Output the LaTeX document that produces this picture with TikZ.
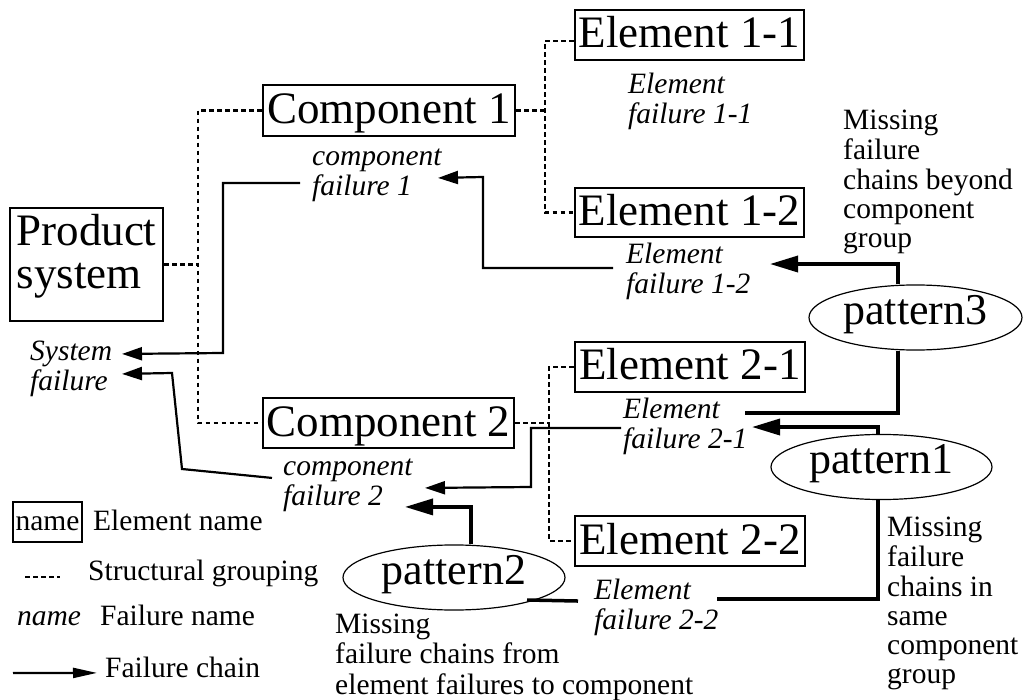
\documentclass[tikz,border=0pt]{standalone}
\usepackage{fontspec}
\setmainfont{Liberation Serif}
\usetikzlibrary{arrows.meta,shapes.geometric}
\newcommand\bigf{\fontsize{45}{43}\selectfont}
\newcommand\patf{\fontsize{44}{44}\selectfont}
\newcommand\smallf{\fontsize{29.5}{29}\selectfont}
\tikzset{
  boxbase/.style={draw, line width=2.2pt, inner sep=0pt, font=\bigf},
  box/.style={boxbase, text height=31pt, text depth=5pt},
  grp/.style={line width=2.3pt, dash pattern=on 4.5pt off 3.5pt},
  chain/.style={line width=2.2pt, -{Triangle[length=20pt,width=13pt]}},
  legarrow/.style={line width=2.2pt, -{Triangle[length=24pt,width=10pt]}},
  pat/.style={line width=3.5pt},
  patarrow/.style={pat, -{Triangle[length=28pt,width=16pt]}},
  patt/.style={draw, ellipse, line width=1.2pt, inner sep=0pt, font=\patf, text height=30pt, text depth=16pt},
  flab/.style={anchor=north west, inner sep=0pt, align=left, font=\smallf\itshape},
  note/.style={anchor=north west, inner sep=0pt, align=left, font=\smallf},
  leg/.style={anchor=base west, inner sep=0pt, font=\smallf},
}
\begin{document}
\begin{tikzpicture}[x=1pt,y=-1pt]
\useasboundingbox (0,0) rectangle (1023,700);

% structure boxes
\node[boxbase, minimum width=153pt, minimum height=113pt, align=left] (ps) at (86.5,264.5) {Product\\system\rule[-26.7pt]{0pt}{1pt}};
\node[box, minimum width=252pt, minimum height=51pt] (c1) at (389,110.5) {Component 1};
\node[box, minimum width=251pt, minimum height=50pt] (c2) at (388.5,423) {Component 2};
\node[box, minimum width=229pt, minimum height=50pt] (e11) at (689.5,35) {Element 1-1};
\node[box, minimum width=229pt, minimum height=49pt] (e12) at (689.5,212.5) {Element 1-2};
\node[box, minimum width=230pt, minimum height=50pt] (e21) at (690,367) {Element 2-1};
\node[box, minimum width=230pt, minimum height=50pt] (e22) at (690,541) {Element 2-2};

% failure labels
\node[flab] (ef11) at (628,72.7) {\strut Element\\\strut failure 1-1};
\node[flab] (ef12) at (626,242.7) {\strut Element\\\strut failure 1-2};
\node[flab] (cf1) at (312,144.7) {\strut component\\\strut failure 1};
\node[flab] (cf2) at (283,454.7) {\strut component\\\strut failure 2};
\node[flab] (sf) at (30,339.7) {\strut System\\\strut failure};
\node[flab] (ef21) at (623,397.7) {\strut Element\\\strut failure 2-1};
\node[flab] (ef22) at (594,578.7) {\strut Element\\\strut failure 2-2};

% patterns
\node[patt, minimum width=213pt, minimum height=59pt] (p3) at (915.5,317.5) {pattern3};
\node[patt, minimum width=221pt, minimum height=60pt] (p1) at (881.5,467) {pattern1};
\node[patt, minimum width=222pt, minimum height=59pt] (p2) at (454,577.5) {pattern2};

% notes
\node[note] (n3) at (843,108.7) {\strut Missing\\\strut failure\\\strut chains beyond\\\strut component\\\strut group};
\node[note] (n1) at (887,515.7) {\strut Missing\\\strut failure\\\strut chains in\\\strut same\\\strut component\\\strut group};
\node[note] (n2) at (335,612.7) {\strut Missing\\\strut failure chains from\\\strut element failures to component};

% structural grouping
\coordinate (g0) at (198,264.5);
\draw[grp] (ps.east) -- (g0);
\draw[grp] (c1.west) -| (g0) |- (c2.west);
\coordinate (g1) at (545,110.5);
\draw[grp] (c1.east) -- (g1);
\draw[grp] ([shift={(0,6)}]e11.west) -| (g1) |- (e12.west);
\coordinate (g2) at (549,423);
\draw[grp] (c2.east) -- (g2);
\draw[grp] (e21.west) -| (g2) |- (e22.west);

% failure chains
\coordinate (k1) at (483,177);
\draw[chain] ([shift={(-13,-4.7)}]ef12.west) -| (k1) -- ([shift={(126,3.3)}]cf1.west);
\coordinate (k2) at (223,353);
\draw[chain] ([shift={(-12,8.3)}]cf1.west) -| (k2) -- ([shift={(92,-15.7)}]sf.west);
\coordinate (k3) at (182,469);
\coordinate (k4) at (172,373);
\draw[chain] ([shift={(-11,-6.7)}]cf2.west) -- (k3) -- (k4) -- ([shift={(92,4.3)}]sf.west);
\coordinate (k5) at (531,487);
\draw[chain] ([shift={(-2,0.3)}]ef21.west) -| (k5) -- ([shift={(142,3.3)}]cf2.west);

% missing chains (patterns)
\draw[patarrow] ([shift={(-17.5,0)}]p3.north) |- ([shift={(144,-8.7)}]ef12.west);
\draw[pat] ([shift={(-17.5,0)}]p3.south) |- ([shift={(122,-14.7)}]ef21.west);
\draw[patarrow] ([shift={(-3.5,0)}]p1.north) |- ([shift={(129,-0.7)}]ef21.west);
\draw[pat] ([shift={(-3.5,0)}]p1.south) |- ([shift={(123,-9.7)}]ef22.west);
\draw[patarrow] ([shift={(17,0)}]p2.north) |- ([shift={(122,22.3)}]cf2.west);
\draw[pat] ([shift={(73,22.5)}]p2.center) -- ([shift={(-16,-7.7)}]ef22.west);

% legend
\node[draw, line width=2.2pt, inner sep=0pt, minimum width=69pt, minimum height=40pt, font=\smallf, text height=20pt, text depth=4pt] (lbox) at (47.5,522) {name};
\node[leg] (lt1) at (93,530) {Element name};
\coordinate (ld1) at (25,577);
\coordinate (ld2) at (60,577);
\draw[grp] (ld1) -- (ld2);
\node[leg] (lt2) at (88,580) {Structural grouping};
\node[leg, font=\smallf\itshape] (lname) at (17,625) {name};
\node[leg] (lt3) at (100,625) {Failure name};
\coordinate (la) at (13,673);
\node[leg] (lt4) at (105,677) {Failure chain};
\draw[legarrow] (la) -- ([shift={(-8,6)}]lt4.west);
\end{tikzpicture}
\end{document}
